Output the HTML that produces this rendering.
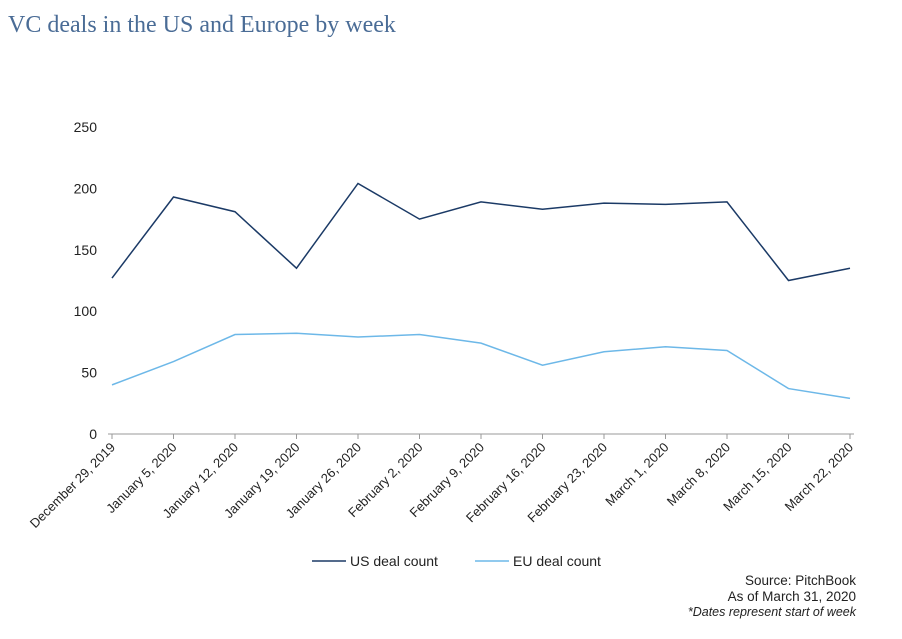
<!DOCTYPE html>
<html><head><meta charset="utf-8"><style>
body{margin:0;background:#fff;width:902px;height:639px;overflow:hidden;font-family:"Liberation Sans",sans-serif}
#title{position:absolute;left:8px;top:12px;font-family:"Liberation Serif",serif;font-size:24px;color:#4a6c96}
.src{position:absolute;right:46px;font-size:13.5px;color:#222;text-align:right}
</style></head><body>
<div id="title">VC deals in the US and Europe by week</div>
<svg id="chart" width="902" height="639" style="position:absolute;left:0;top:0"></svg>
<div class="src" style="top:573px">Source: PitchBook</div>
<div class="src" style="top:589px">As of March 31, 2020</div>
<div class="src" style="top:605px;font-style:italic;font-size:12.5px">*Dates represent start of week</div>
<script>
const categories=["December 29, 2019","January 5, 2020","January 12, 2020","January 19, 2020","January 26, 2020","February 2, 2020","February 9, 2020","February 16, 2020","February 23, 2020","March 1, 2020","March 8, 2020","March 15, 2020","March 22, 2020"];
const usValues=[127,193,181,135,204,175,189,183,188,187,189,125,135];
const euValues=[40,59,81,82,79,81,74,56,67,71,68,37,29];
const yTicks=[0,50,100,150,200,250];
const NS="http://www.w3.org/2000/svg";
const svg=document.getElementById("chart");
const x0=112,x1=850,yb=434,yt=127;
const xs=i=>x0+(x1-x0)*i/(categories.length-1);
const ys=v=>yb-(yb-yt)*v/250;
function mk(t,a){const e=document.createElementNS(NS,t);for(const k in a)e.setAttribute(k,a[k]);svg.appendChild(e);return e;}
yTicks.forEach(v=>{const t=mk("text",{x:97,y:ys(v)+5,"text-anchor":"end","font-size":"14","fill":"#222","font-family":"Liberation Sans"});t.textContent=v;

});
const ax=mk("line",{x1:108,x2:854,y1:yb,y2:yb,stroke:"#999","stroke-width":1});


categories.forEach((c,i)=>{const x=xs(i);mk("line",{x1:x,x2:x,y1:yb,y2:yb+5,stroke:"#999"});
const t=mk("text",{x:x+4,y:yb+14,"text-anchor":"end","font-size":"13","fill":"#222","font-family":"Liberation Sans",transform:`rotate(-45 ${x+4} ${yb+14})`});t.textContent=c;

});
function line(vals,col,name){const p=mk("polyline",{points:vals.map((v,i)=>xs(i)+","+ys(v)).join(" "),fill:"none",stroke:col,"stroke-width":1.5});

}
line(usValues,"#1b3a66","us-deal-count-line");
line(euValues,"#6db8e8","eu-deal-count-line");
function leg(x,col,label,name){const g=mk("g",{});

const l=document.createElementNS(NS,"line");l.setAttribute("x1",x);l.setAttribute("x2",x+34);l.setAttribute("y1",561);l.setAttribute("y2",561);l.setAttribute("stroke",col);l.setAttribute("stroke-width",1.5);g.appendChild(l);
const t=document.createElementNS(NS,"text");t.setAttribute("x",x+38);t.setAttribute("y",566);t.setAttribute("font-size","14");t.setAttribute("fill","#222");t.setAttribute("font-family","Liberation Sans");t.textContent=label;g.appendChild(t);}
leg(312,"#1b3a66","US deal count","legend-us");
leg(475,"#6db8e8","EU deal count","legend-eu");
</script>
</body></html>
